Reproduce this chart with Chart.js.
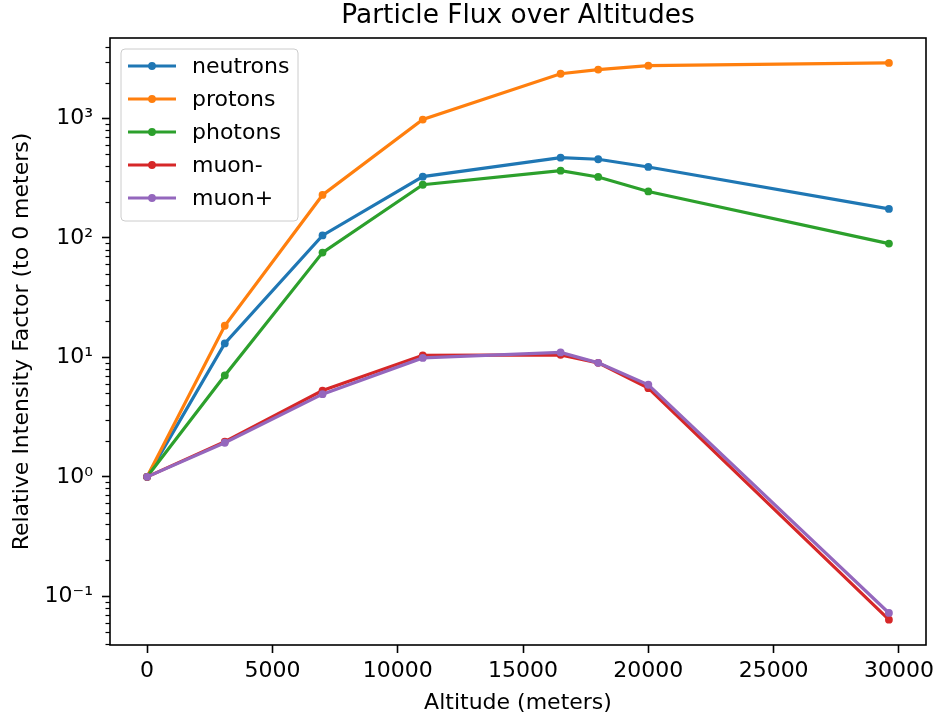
<!DOCTYPE html>
<html>
<head>
<meta charset="utf-8">
<script src="https://cdn.jsdelivr.net/npm/chart.js@4/dist/chart.umd.min.js"></script>
<style>
  html, body { margin: 0; padding: 0; background: #fff; }
  #chart { display: block; }
</style>
</head>
<body>
<canvas id="chart" width="937" height="715"></canvas>
<script>
// altitudes in meters
const altitudes = [0, 3100, 7000, 11000, 16500, 18000, 20000, 29600];

// relative intensity (to 0 meters)
const neutrons = [1, 13.1, 105, 326, 470, 456, 393, 175];
const protons = [1, 18.4, 229, 980, 2370, 2570, 2770, 2920];
const photons = [1, 7.06, 75.4, 279, 366, 324, 245, 89.7];
const muonMinus = [1, 1.97, 5.28, 10.4, 10.5, 9.0, 5.53, 0.0637];
const muonPlus = [1, 1.93, 4.92, 9.9, 11.0, 9.0, 5.9, 0.0725];

const seriesNames = ["neutrons", "protons", "photons", "muon-", "muon+"];
const seriesValues = [neutrons, protons, photons, muonMinus, muonPlus];
const seriesColors = ["#1f77b4", "#ff7f0e", "#2ca02c", "#d62728", "#9467bd"];

const xTickValues = [0, 5000, 10000, 15000, 20000, 25000, 30000];
const yTickValues = [0.1, 1, 10, 100, 1000];
const yTickLabels = ["10\u207B\u00B9", "10\u2070", "10\u00B9", "10\u00B2", "10\u00B3"];

const FONT = "'DejaVu Sans', 'Liberation Sans', sans-serif";

const datasets = seriesNames.map((name, i) => ({
  label: name,
  data: altitudes.map((alt, j) => ({ x: alt, y: seriesValues[i][j] })),
  xAxisID: "x",
  yAxisID: "y",
  borderColor: seriesColors[i],
  backgroundColor: seriesColors[i],
  borderWidth: 3.2,
  pointRadius: 3.9,
  pointBorderWidth: 0,
  pointHoverRadius: 3.9,
  tension: 0,
  order: seriesNames.length - i, // later series drawn on top
}));

// frame, minor log ticks and the legend box
const decorPlugin = {
  id: "decor",
  afterDraw(chart) {
    const ctx = chart.ctx;
    const area = chart.chartArea;
    const yScale = chart.scales.y;

    ctx.save();
    // minor ticks on the log axis
    ctx.strokeStyle = "#000";
    ctx.lineWidth = 1.2;
    for (let e = -2; e <= 4; e++) {
      for (let m = 2; m <= 9; m++) {
        const v = m * Math.pow(10, e);
        if (v < yScale.min || v > yScale.max) continue;
        const py = Math.round(yScale.getPixelForValue(v)) + 0.5;
        ctx.beginPath();
        ctx.moveTo(area.left, py);
        ctx.lineTo(area.left - 4.5, py);
        ctx.stroke();
      }
    }

    // axes frame
    ctx.lineWidth = 1.6;
    ctx.strokeRect(area.left, area.top, area.right - area.left, area.bottom - area.top);

    // legend
    const lx = 121, ly = 49, lw = 177, lh = 172;
    ctx.beginPath();
    ctx.roundRect(lx, ly, lw, lh, 4);
    ctx.fillStyle = "rgba(255,255,255,0.8)";
    ctx.fill();
    ctx.strokeStyle = "#cccccc";
    ctx.lineWidth = 1;
    ctx.stroke();

    ctx.font = "22px " + FONT;
    ctx.textBaseline = "middle";
    ctx.textAlign = "left";
    chart.data.datasets.forEach((ds, i) => {
      const rowY = 66 + i * 33;
      ctx.strokeStyle = ds.borderColor;
      ctx.lineWidth = 3.2;
      ctx.beginPath();
      ctx.moveTo(128, rowY);
      ctx.lineTo(176, rowY);
      ctx.stroke();
      ctx.fillStyle = ds.borderColor;
      ctx.beginPath();
      ctx.arc(152, rowY, 3.9, 0, Math.PI * 2);
      ctx.fill();
      ctx.fillStyle = "#000";
      ctx.fillText(ds.label, 192, rowY + 1);
    });
    ctx.restore();
  },
};

new Chart(document.getElementById("chart"), {
  type: "line",
  data: { datasets: datasets },
  options: {
    responsive: false,
    animation: false,
    devicePixelRatio: 1,
    layout: { padding: { left: 0, right: 11, top: 0, bottom: 0 } },
    plugins: {
      legend: { display: false },
      tooltip: { enabled: false },
      title: { display: false },
    },
    scales: {
      x: {
        type: "linear",
        position: "bottom",
        min: -1480,
        max: 31080,
        afterBuildTicks: (scale) => {
          scale.ticks = xTickValues.map((v) => ({ value: v }));
        },
        afterFit: (scale) => {
          scale.height = 70;
          // let the end labels overhang instead of shrinking the plot
          scale.paddingLeft = 0;
          scale.paddingRight = 0;
        },
        ticks: {
          color: "#000",
          font: { family: FONT, size: 22 },
          padding: 5,
          maxRotation: 0,
          callback: (v) => String(v),
        },
        grid: {
          drawOnChartArea: false,
          tickLength: 8,
          tickWidth: 1.6,
          tickColor: "#000",
        },
        border: { display: false },
        title: {
          display: true,
          text: "Altitude (meters)",
          color: "#000",
          font: { family: FONT, size: 22, lineHeight: 1.05 },
          padding: { top: 0, bottom: 0 },
        },
      },
      // top axis only carries the chart title, centred over the plot area
      xTop: {
        type: "linear",
        axis: "x",
        position: "top",
        afterFit: (scale) => {
          scale.height = 38;
          scale.paddingLeft = 0;
          scale.paddingRight = 0;
        },
        ticks: { display: false },
        grid: { display: false },
        border: { display: false },
        title: {
          display: true,
          text: "Particle Flux over Altitudes",
          color: "#000",
          font: { family: FONT, size: 26.4, lineHeight: 1.2 },
          padding: { top: 0, bottom: 0 },
        },
      },
      y: {
        type: "logarithmic",
        min: 0.0391,
        max: 4721,
        afterBuildTicks: (scale) => {
          scale.ticks = yTickValues.map((v) => ({ value: v }));
        },
        afterFit: (scale) => {
          scale.width = 110;
          scale.paddingTop = 0;
          scale.paddingBottom = 0;
        },
        ticks: {
          color: "#000",
          font: { family: FONT, size: 22 },
          padding: 9,
          callback: (v) => {
            const idx = yTickValues.indexOf(v);
            return idx >= 0 ? yTickLabels[idx] : "";
          },
        },
        grid: {
          drawOnChartArea: false,
          tickLength: 8,
          tickWidth: 1.6,
          tickColor: "#000",
        },
        border: { display: false },
        title: {
          display: true,
          text: "Relative Intensity Factor (to 0 meters)",
          color: "#000",
          font: { family: FONT, size: 22 },
          padding: { top: 9, bottom: 0 },
        },
      },
    },
  },
  plugins: [decorPlugin],
});
</script>
</body>
</html>
